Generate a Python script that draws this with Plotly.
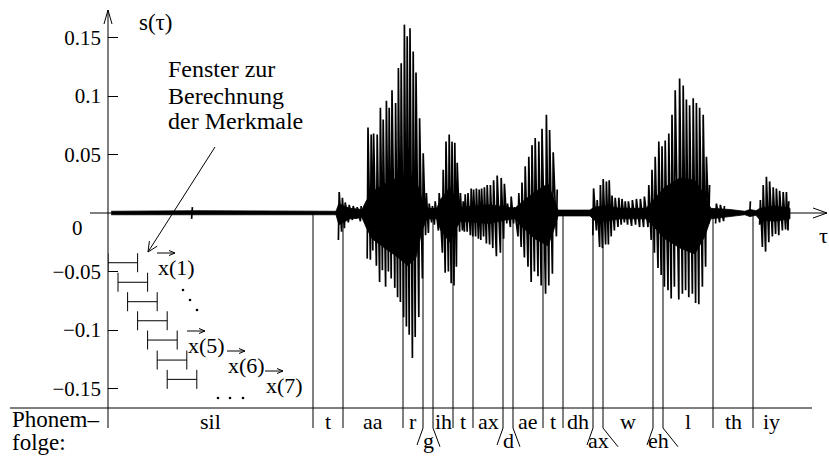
import plotly.graph_objects as go

W, H = 829, 458
ML = 108                       # left margin (px) = position of the s(tau) axis
MS_PER_PX = 2.5                # time scale of the x axis (ms per pixel)
ZERO_PX = 213                  # pixel row of s = 0
AMP_PER_PX = 0.05 / 58.5       # amplitude per pixel

X_MAX = (W - ML) * MS_PER_PX
Y_MAX = ZERO_PX * AMP_PER_PX
Y_MIN = -(H - ZERO_PX) * AMP_PER_PX

# ---------------------------------------------------------------- data
# dense core of the speech signal s(tau): time [ms], upper / lower envelope
core_t = [8, 230, 570, 577, 590, 605, 635, 645, 660, 692,
          725, 750, 770, 785, 797, 822, 832, 855, 872, 882,
          955, 992, 1017, 1030, 1067, 1100, 1117, 1125, 1205, 1215,
          1242, 1280, 1345, 1360, 1392, 1430, 1467, 1492, 1507, 1555,
          1592, 1605, 1620, 1630, 1667, 1705]
core_hi = [.0015, .002, .0015, .008, .006, .004, .003, .010, .018, .025,
           .030, .035, .028, .012, .004, .004, .012, .022, .010, .005,
           .007, .005, .004, .008, .018, .025, .010, .0025, .0025, .005,
           .006, .004, .004, .010, .022, .030, .028, .015, .004, .003,
           .0015, .003, .002, .004, .006, .004]
core_lo = [-.0015, -.0015, -.0015, -.010, -.008, -.005, -.004, -.012, -.022, -.030,
           -.038, -.045, -.038, -.015, -.005, -.005, -.015, -.025, -.012, -.007,
           -.009, -.006, -.005, -.010, -.022, -.028, -.012, -.0025, -.0025, -.006,
           -.007, -.005, -.005, -.010, -.022, -.030, -.035, -.020, -.005, -.003,
           -.0015, -.003, -.002, -.006, -.007, -.005]

# pitch pulses / spikes: time [ms], maximum, minimum
pulse_t = [210,
           577, 585, 592, 602, 612, 622, 632,
           649, 657, 663, 672, 680, 687, 695, 702, 709, 718,
           725, 732, 740, 747, 754, 762, 769, 778, 787, 795,
           802, 810, 817,
           827, 837, 844, 852, 859, 866, 872,
           880, 887, 892, 899, 907, 913, 920, 927, 933, 940,
           947, 955, 963, 972, 982, 990, 998, 1007, 1015,
           1026, 1034, 1042, 1051, 1059, 1067, 1076, 1084, 1095, 1103, 1112, 1122,
           1213, 1222, 1230, 1237, 1245, 1252, 1259, 1267, 1276, 1284, 1292,
           1300, 1310, 1320, 1330, 1340,
           1351, 1359, 1367, 1376, 1384, 1392, 1401, 1409, 1417, 1428,
           1437, 1445, 1453, 1462, 1470, 1478, 1487, 1495, 1503,
           1520, 1530, 1540, 1605,
           1630, 1637, 1645, 1653, 1662, 1670, 1678, 1687, 1695, 1701]
pulse_hi = [.005,
            .018, .013, .009, .007, .006, .005, .006,
            .073, .067, .068, .067, .090, .080, .096, .090, .105, .094,
            .124, .128, .161, .151, .158, .138, .120, .081, .051, .017,
            .008, .006, .010,
            .017, .037, .061, .067, .061, .060, .043,
            .017, .010, .016, .017, .021, .020, .021, .020, .021, .022,
            .024, .024, .028, .032, .030, .025, .008, .014, .005,
            .017, .026, .040, .048, .058, .064, .061, .072, .084, .071, .052, .020,
            .021, .011, .024, .029, .027, .028, .015, .013, .013, .012, .010,
            .010, .011, .012, .012, .014,
            .024, .037, .048, .061, .057, .062, .068, .084, .105, .115,
            .109, .097, .092, .098, .094, .090, .084, .048, .024,
            .008, .007, .006, .010,
            .011, .024, .031, .027, .022, .021, .019, .018, .018, .010]
pulse_lo = [-.005,
            -.023, -.016, -.013, -.008, -.006, -.005, -.007,
            -.039, -.040, -.032, -.045, -.059, -.049, -.063, -.050, -.056, -.064,
            -.072, -.076, -.089, -.097, -.104, -.124, -.106, -.089, -.056, -.019,
            -.017, -.008, -.010,
            -.015, -.034, -.051, -.050, -.060, -.062, -.046,
            -.016, -.015, -.016, -.016, -.019, -.020, -.020, -.022, -.023, -.020,
            -.026, -.027, -.030, -.037, -.034, -.022, -.009, -.012, -.009,
            -.020, -.029, -.038, -.046, -.059, -.050, -.054, -.062, -.069, -.062, -.052, -.020,
            -.019, -.015, -.029, -.030, -.027, -.027, -.020, -.015, -.012, -.010, -.008,
            -.010, -.011, -.010, -.012, -.012,
            -.012, -.023, -.034, -.047, -.053, -.063, -.066, -.073, -.063, -.074,
            -.069, -.066, -.072, -.069, -.077, -.078, -.063, -.046, -.009,
            -.009, -.008, -.007, -.003,
            -.010, -.029, -.033, -.025, -.020, -.018, -.019, -.015, -.014, -.015]

# phoneme sequence (Phonemfolge) with segment boundaries [ms]
phonemes = ["sil", "t", "aa", "r", "g", "ih", "t", "ax", "d", "ae",
            "t", "dh", "ax", "w", "eh", "l", "th", "iy"]
ph_start = [0, 512.5, 587.5, 737.5, 787.5, 812.5, 862.5, 912.5, 987.5, 1012.5,
            1087.5, 1137.5, 1212.5, 1237.5, 1362.5, 1387.5, 1512.5, 1612.5]
ph_end = [512.5, 587.5, 737.5, 787.5, 812.5, 862.5, 912.5, 987.5, 1012.5, 1087.5,
          1137.5, 1212.5, 1237.5, 1362.5, 1387.5, 1512.5, 1612.5, 1705]
ph_short = [False, False, False, False, True, False, False, False, True, False,
            False, False, True, False, True, False, False, False]

# analysis windows (Fenster) [ms] and their drawing level
win_start = [0, 25, 49, 74, 99, 123, 148]
win_end = [74, 99, 123, 148, 173, 197, 222]
win_level = [-0.0425, -0.0592, -0.0758, -0.0921, -0.1086, -0.1257, -0.1422]

y_ticks = [-0.15, -0.1, -0.05, 0.05, 0.1, 0.15]
y_ticktext = ["\u22120.15", "\u22120.1", "\u22120.05", "0.05", "0.1", "0.15"]

vec_names = ["x(1)", "x(5)", "x(6)", "x(7)"]

# ---------------------------------------------------------------- helpers
FONT = "Liberation Serif"
BLACK = "black"


def px(xp):            # pixel column -> paper x
    return (xp - ML) / (W - ML)


def py(yp):            # pixel row -> paper y
    return 1 - yp / H


def dx(xp):            # pixel column -> data x (ms)
    return (xp - ML) * MS_PER_PX


def dy(yp):            # pixel row -> data y
    return (ZERO_PX - yp) * AMP_PER_PX


def pline(x0, y0, x1, y1, w=1.0):
    return dict(type="line", xref="paper", yref="paper",
                x0=px(x0), y0=py(y0), x1=px(x1), y1=py(y1),
                line=dict(color=BLACK, width=w), layer="above")


def text(t, x, y, size=22, xanchor="center", yanchor="middle"):
    return dict(text=t, x=px(x), y=py(y), xref="paper", yref="paper",
                showarrow=False, xanchor=xanchor, yanchor=yanchor,
                font=dict(family=FONT, size=size, color=BLACK))


fig = go.Figure()

# phoneme boundaries (from the signal down below the Phonemfolge line)
BND_BOTTOM = dy(428)
bx, by = [], []
for s in ph_start[1:]:
    bx += [s, s, None]
    by += [0, BND_BOTTOM, None]
# slanted lines for short segments
SL_Y = dy(445)
for name, s, e, short in zip(phonemes, ph_start, ph_end, ph_short):
    if short:
        right = 17.5 if len(name) == 1 else 37.5
        bx += [s, s - 15, None, e, e + right, None]
        by += [BND_BOTTOM, SL_Y, None, BND_BOTTOM, SL_Y - 0.0015, None]
fig.add_trace(go.Scatter(x=bx, y=by, mode="lines",
                         line=dict(color=BLACK, width=1), hoverinfo="skip"))

# signal core
fig.add_trace(go.Scatter(x=core_t + core_t[::-1], y=core_hi + core_lo[::-1],
                         fill="toself", fillcolor=BLACK, mode="lines",
                         line=dict(color=BLACK, width=0.8), hoverinfo="skip"))
# pitch pulses drawn as an oscillating trace (broken across pauses)
sx, sy = [], []
prev = None
for t, hi, lo in zip(pulse_t, pulse_hi, pulse_lo):
    if prev is not None and t - prev > 12:
        sx.append(None)
        sy.append(None)
    sx += [t - 1, t + 1]
    sy += [lo, hi]
    prev = t
fig.add_trace(go.Scatter(x=sx, y=sy, mode="lines",
                         line=dict(color=BLACK, width=1.7), hoverinfo="skip"))

# analysis windows
TICK_H = 9.5 * AMP_PER_PX
wx, wy = [], []
for a, b, lv in zip(win_start, win_end, win_level):
    wx += [a, b, None, a, a, None, b, b, None]
    wy += [lv, lv, None, lv - TICK_H, lv + TICK_H, None, lv - TICK_H, lv + TICK_H, None]
fig.add_trace(go.Scatter(x=wx, y=wy, mode="lines",
                         line=dict(color=BLACK, width=1), hoverinfo="skip"))

# ellipsis dots
dots_px = [(183, 290), (190, 300), (197, 310), (218, 398), (230, 398), (243, 398)]
fig.add_trace(go.Scatter(x=[dx(a) for a, _ in dots_px], y=[dy(b) for _, b in dots_px],
                         mode="markers", marker=dict(color=BLACK, size=2.6),
                         hoverinfo="skip"))

shapes = []
# s(tau) axis with open arrow head
shapes += [pline(108, 428, 108, 10), pline(104, 24, 108, 10), pline(112, 24, 108, 10)]
# tau axis with open arrow head
shapes += [pline(90, 213, 827, 213), pline(813, 208, 827, 213), pline(813, 218, 827, 213)]
# Phonemfolge line
shapes += [pline(10, 408, 812, 408)]
# pointer from the text to the first window
shapes += [pline(215, 147, 148, 252), pline(157.3, 246.1, 148, 252),
           pline(149.4, 241.1, 148, 252)]
# vector arrows above the x
vec_pos = [(157, 267), (187, 345), (227, 365), (265, 385)]
for (xl, yc) in vec_pos:
    shapes += [pline(xl, yc - 14, xl + 18, yc - 14),
               pline(xl + 12, yc - 16.5, xl + 18, yc - 14),
               pline(xl + 12, yc - 11.5, xl + 18, yc - 14)]

annotations = []
annotations.append(text("s(\u03c4)", 156, 22, size=23))
annotations.append(text("\u03c4", 817, 235, size=22, xanchor="left"))
annotations.append(text("0", 77, 228, size=21))
for i, line in enumerate(["Fenster zur", "Berechnung", "der Merkmale"]):
    annotations.append(text(line, 166, [69, 96, 121][i], size=24, xanchor="left"))
annotations.append(text("Phonem\u2013", 10, 419, size=23, xanchor="left"))
annotations.append(text("folge:", 10, 442, size=23, xanchor="left"))
for name, (xl, yc) in zip(vec_names, vec_pos):
    annotations.append(text(name, xl - 1, yc, size=22, xanchor="left"))

LBL_Y = dy(421)
LBL_Y_LOW = dy(440)
for name, s, e, short in zip(phonemes, ph_start, ph_end, ph_short):
    annotations.append(dict(text=name, x=(s + e) / 2, y=LBL_Y_LOW if short else LBL_Y,
                            xref="x", yref="y", showarrow=False,
                            xanchor="center", yanchor="middle",
                            font=dict(family=FONT, size=22, color=BLACK)))

fig.update_layout(
    width=W, height=H,
    margin=dict(l=ML, r=0, t=0, b=0),
    paper_bgcolor="white", plot_bgcolor="white",
    showlegend=False,
    xaxis=dict(range=[0, X_MAX], visible=False, fixedrange=True),
    yaxis=dict(range=[Y_MIN, Y_MAX], showgrid=False, zeroline=False, showline=False,
               tickvals=y_ticks, ticktext=y_ticktext, ticks="inside", ticklen=10,
               tickwidth=1, tickcolor=BLACK, ticklabelstandoff=6,
               tickfont=dict(family=FONT, size=21, color=BLACK), fixedrange=True),
    shapes=shapes,
    annotations=annotations,
)

fig.write_html("out.html")
